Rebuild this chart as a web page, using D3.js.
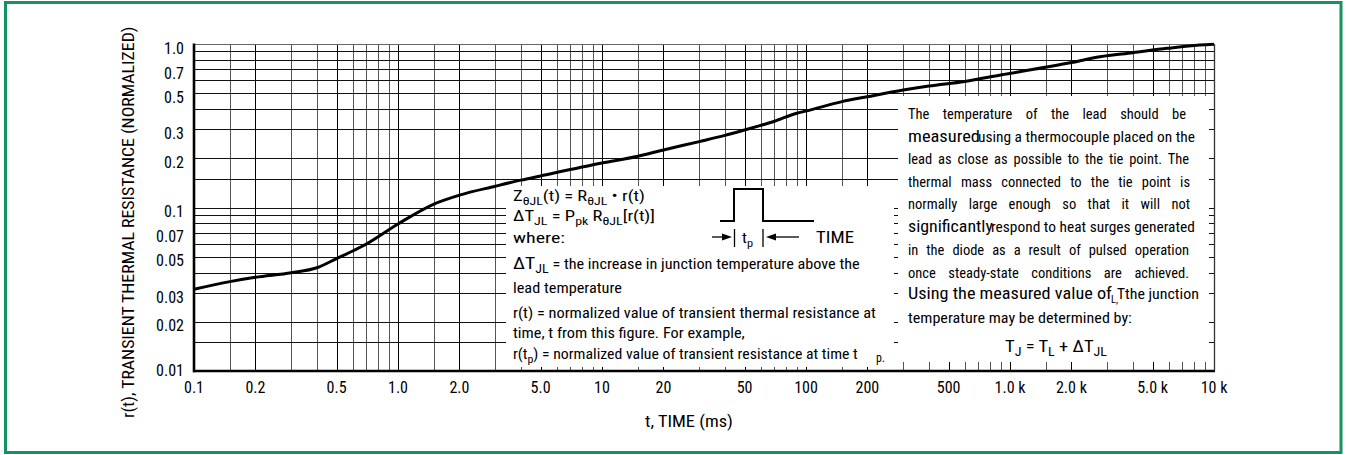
<!DOCTYPE html>
<html><head><meta charset="utf-8">
<script src="https://cdn.jsdelivr.net/npm/d3@7"></script>
<style>body{margin:0;background:#fff;} svg{display:block;}</style>
</head><body>
<svg id="c" width="1346" height="455"></svg>
<script>
// ---- data ----
const timeMs = [0.1,0.15,0.2,0.3,0.4,0.5,0.6,0.7,1,1.5,2,3,4,5,10,15,20,30,40,50,60,70,90,100,150,200,300,400,600,900,2000,2760,4000,5900,8500,10000];
const rValues = [0.0316,0.0352,0.0374,0.0399,0.0428,0.0487,0.0542,0.0598,0.0793,0.105,0.119,0.135,0.147,0.156,0.187,0.206,0.225,0.253,0.276,0.298,0.318,0.337,0.377,0.389,0.444,0.476,0.523,0.553,0.590,0.646,0.770,0.836,0.885,0.941,0.986,0.996];
const xTickValues = [0.1,0.2,0.5,1,2,5,10,20,50,100,200,500,1000,2000,5000,10000];
const xTickLabels = ["0.1","0.2","0.5","1.0","2.0","5.0","10","20","50","100","200","500","1.0 k","2.0 k","5.0 k","10 k"];
const yTickValues = [1,0.7,0.5,0.3,0.2,0.1,0.07,0.05,0.03,0.02,0.01];
const yTickLabels = ["1.0","0.7","0.5","0.3","0.2","0.1","0.07","0.05","0.03","0.02","0.01"];
const gridMantissas = [1,1.5,2,3,4,5,6,7,8,9];
const xDecades = [0.1,1,10,100,1000];
const yDecades = [0.01,0.1];
const yTitle = "r(t), TRANSIENT THERMAL RESISTANCE (NORMALIZED)";
const xTitle = "t, TIME (ms)";

const FONT = '"Liberation Sans Narrow","Arial Narrow","Roboto Condensed","Liberation Sans",Arial,sans-serif';
const svg = d3.select("#c").attr("font-family", FONT);
const L = 194, R = 1214, T = 44, B = 371;
const x = d3.scaleLog().domain([0.1, 10000]).range([L, R]);
const y = d3.scaleLog().domain([0.01, 1]).range([B, T]);

// frame
svg.append("rect").attr("x",5.5).attr("y",2.5).attr("width",1335.5).attr("height",450)
  .attr("fill","none").attr("stroke","#14925f").attr("stroke-width",3);

// grid
const vGrid = [];
xDecades.forEach(d => gridMantissas.forEach(m => vGrid.push({v: d*m, m})));
vGrid.push({v:10000, m:1});
const hGrid = [];
yDecades.forEach(d => gridMantissas.forEach(m => hGrid.push({v: d*m, m})));
hGrid.push({v:1, m:1});
const grid = svg.append("g").attr("shape-rendering","crispEdges");
grid.selectAll("line.v").data(vGrid).join("line").attr("class","v")
  .attr("x1", d => Math.round(x(d.v))+0.5).attr("x2", d => Math.round(x(d.v))+0.5)
  .attr("y1", T).attr("y2", B)
  .attr("stroke", d => [1,2,5].includes(d.m) ? "#000" : "#555").attr("stroke-width",1);
grid.selectAll("line.h").data(hGrid).join("line").attr("class","h")
  .attr("y1", d => Math.round(y(d.v))+0.5).attr("y2", d => Math.round(y(d.v))+0.5)
  .attr("x1", L).attr("x2", R)
  .attr("stroke", d => d.v===1 ? "#666" : "#111").attr("stroke-width",1);

// white annotation boxes
svg.append("rect").attr("x",506).attr("y",186).attr("width",894-506).attr("height",367-186).attr("fill","#fff");
svg.append("rect").attr("x",898).attr("y",96).attr("width",1209-898).attr("height",362-96).attr("fill","#fff");

// axes lines
svg.append("line").attr("x1",L).attr("x2",L).attr("y1",T-0.5).attr("y2",B+1.2).attr("stroke","#000").attr("stroke-width",2.6);
svg.append("line").attr("x1",L-1).attr("x2",R+1).attr("y1",B).attr("y2",B).attr("stroke","#000").attr("stroke-width",2.6);
svg.append("line").attr("x1",R+0.5).attr("x2",R+0.5).attr("y1",T).attr("y2",B).attr("stroke","#333").attr("stroke-width",1.3);

// curve
const pts = timeMs.map((t,i) => [x(t), y(rValues[i])]);
svg.append("path").attr("d", d3.line().curve(d3.curveMonotoneX)(pts))
  .attr("fill","none").attr("stroke","#000").attr("stroke-width",3).attr("stroke-linejoin","round");

// tick labels
svg.append("g").selectAll("text").data(yTickValues).join("text")
  .attr("x", 184).attr("y", d => y(d) + (d===0.01 ? -1 : 4))
  .attr("dy","0.35em").attr("text-anchor","end").attr("font-size",16).text((d,i)=>yTickLabels[i]);
svg.append("g").selectAll("text").data(xTickValues).join("text")
  .attr("x", d => x(d)).attr("y", 393).attr("text-anchor","middle").attr("font-size",16)
  .text((d,i)=>xTickLabels[i]);

// text helper: segments -> tspans, fit to width
function addText(parent, px, py, segs, opts) {
  opts = opts || {};
  const size = opts.size || 15;
  const g = parent.append("g");
  const t = g.append("text").attr("font-size", size).attr("fill","#000");
  let inSub = false;
  segs.forEach(s => {
    if (typeof s === "string") s = {t:s};
    const sp = t.append("tspan").text(s.t);
    if (s.size) sp.attr("font-size", s.size);
    if (s.sub && !inSub) { sp.attr("dy", 4).attr("font-size", s.size || size*0.75); inSub = true; }
    else if (s.sub) { sp.attr("font-size", s.size || size*0.75); }
    else if (!s.sub && inSub) { sp.attr("dy", -4); inSub = false; }
  });
  const node = t.node();
  let w = node.getComputedTextLength();
  if (opts.justify && opts.width) {
    const txt = segs.map(s => typeof s === "string" ? s : s.t).join("");
    const n = (txt.match(/ /g) || []).length;
    const ws = (opts.width - w) / n;
    if (n > 0 && ws > 0) { t.attr("word-spacing", ws); w = node.getComputedTextLength(); }
  }
  const s = opts.width ? opts.width / w : 1;
  const W = opts.width || w;
  if (opts.rotate) {
    g.attr("transform", `translate(${px},${py}) rotate(-90) translate(${-W/2},0) scale(${s},1)`);
  } else {
    const ox = opts.center ? px - W/2 : px;
    g.attr("transform", `translate(${ox},${py}) scale(${s},1)`);
  }
  return g;
}

// axis titles
addText(svg, 134, 222, [yTitle], {size:16, width:392, rotate:true});
addText(svg, 689, 427, [xTitle], {size:16, width:88, center:true});

// left annotation
const ann = svg.append("g");
const lx = 513;
addText(ann, lx, 201, ["Z",{t:"θJL",sub:true},"(t) = R",{t:"θJL",sub:true}," • r(t)"], {size:15, width:132});
addText(ann, lx, 221, ["ΔT",{t:"JL",sub:true}," = P",{t:"pk",sub:true}," R",{t:"θJL",sub:true},"[r(t)]"], {size:15, width:142});
addText(ann, lx, 243, ["where:"], {size:15, width:52});
addText(ann, lx, 269, [{t:"ΔT",size:17},{t:"JL",sub:true,size:12}," = the increase in junction temperature above the"], {size:14, width:347});
addText(ann, lx, 293, ["lead temperature"], {size:14, width:109});
addText(ann, lx, 318, ["r(t) = normalized value of transient thermal resistance at"], {size:14, width:363});
addText(ann, lx, 338, ["time, t from this figure. For example,"], {size:14, width:232});
addText(ann, lx, 359, ["r(t",{t:"p",sub:true},") = normalized value of transient resistance at time t"], {size:14, width:345});
addText(ann, 876, 362, ["p."], {size:12, width:9});

// pulse diagram
ann.append("path").attr("d","M720,221H734V189H763V221H814").attr("fill","none").attr("stroke","#000").attr("stroke-width",2);
ann.append("line").attr("x1",712).attr("x2",724).attr("y1",237).attr("y2",237).attr("stroke","#000").attr("stroke-width",1.3);
ann.append("path").attr("d","M722,233.5L732,237L722,240.5Z").attr("fill","#000");
ann.append("line").attr("x1",776).attr("x2",799).attr("y1",237).attr("y2",237).attr("stroke","#000").attr("stroke-width",1.3);
ann.append("path").attr("d","M776,233.5L766,237L776,240.5Z").attr("fill","#000");
ann.append("line").attr("x1",734.5).attr("x2",734.5).attr("y1",229).attr("y2",247).attr("stroke","#000").attr("stroke-width",1.3);
ann.append("line").attr("x1",763).attr("x2",763).attr("y1",229).attr("y2",247).attr("stroke","#000").attr("stroke-width",1.3);
addText(ann, 742, 243, ["t",{t:"p",sub:true}], {size:15, width:11});
addText(ann, 816, 243, ["TIME"], {size:16, width:38});

// right annotation
const rx = 908;
addText(ann, rx, 119, ["The temperature of the lead should be"], {size:14.5, width:278, justify:true});
addText(ann, rx, 142, ["measured"], {size:17, width:72});
addText(ann, 978, 142, ["using a thermocouple placed on the"], {size:14.5, width:217});
addText(ann, rx, 164, ["lead as close as possible to the tie point. The"], {size:14.5, width:281, justify:true});
addText(ann, rx, 187, ["thermal mass connected to the tie point is"], {size:14.5, width:282, justify:true});
addText(ann, rx, 209, ["normally large enough so that it will not"], {size:14.5, width:282, justify:true});
addText(ann, rx, 232, ["significantly"], {size:17, width:85});
addText(ann, 991, 232, ["respond to heat surges generated"], {size:14.5, width:204});
addText(ann, rx, 255, ["in the diode as a result of pulsed operation"], {size:14.5, width:281, justify:true});
addText(ann, rx, 278, ["once steady-state conditions are achieved."], {size:14.5, width:281, justify:true});
addText(ann, rx, 299, ["Using the measured value of"], {size:17, width:204});
addText(ann, 1111, 303, ["L,"], {size:11, width:7});
addText(ann, 1117, 299, ["T"], {size:15, width:8});
addText(ann, 1125, 299, ["the junction"], {size:14.5, width:74});
addText(ann, rx, 323, ["temperature may be determined by:"], {size:14.5, width:224});
addText(ann, 1005, 352, ["T",{t:"J",sub:true}," = T",{t:"L",sub:true}," + ΔT",{t:"JL",sub:true}], {size:17, width:102});
</script>
</body></html>
